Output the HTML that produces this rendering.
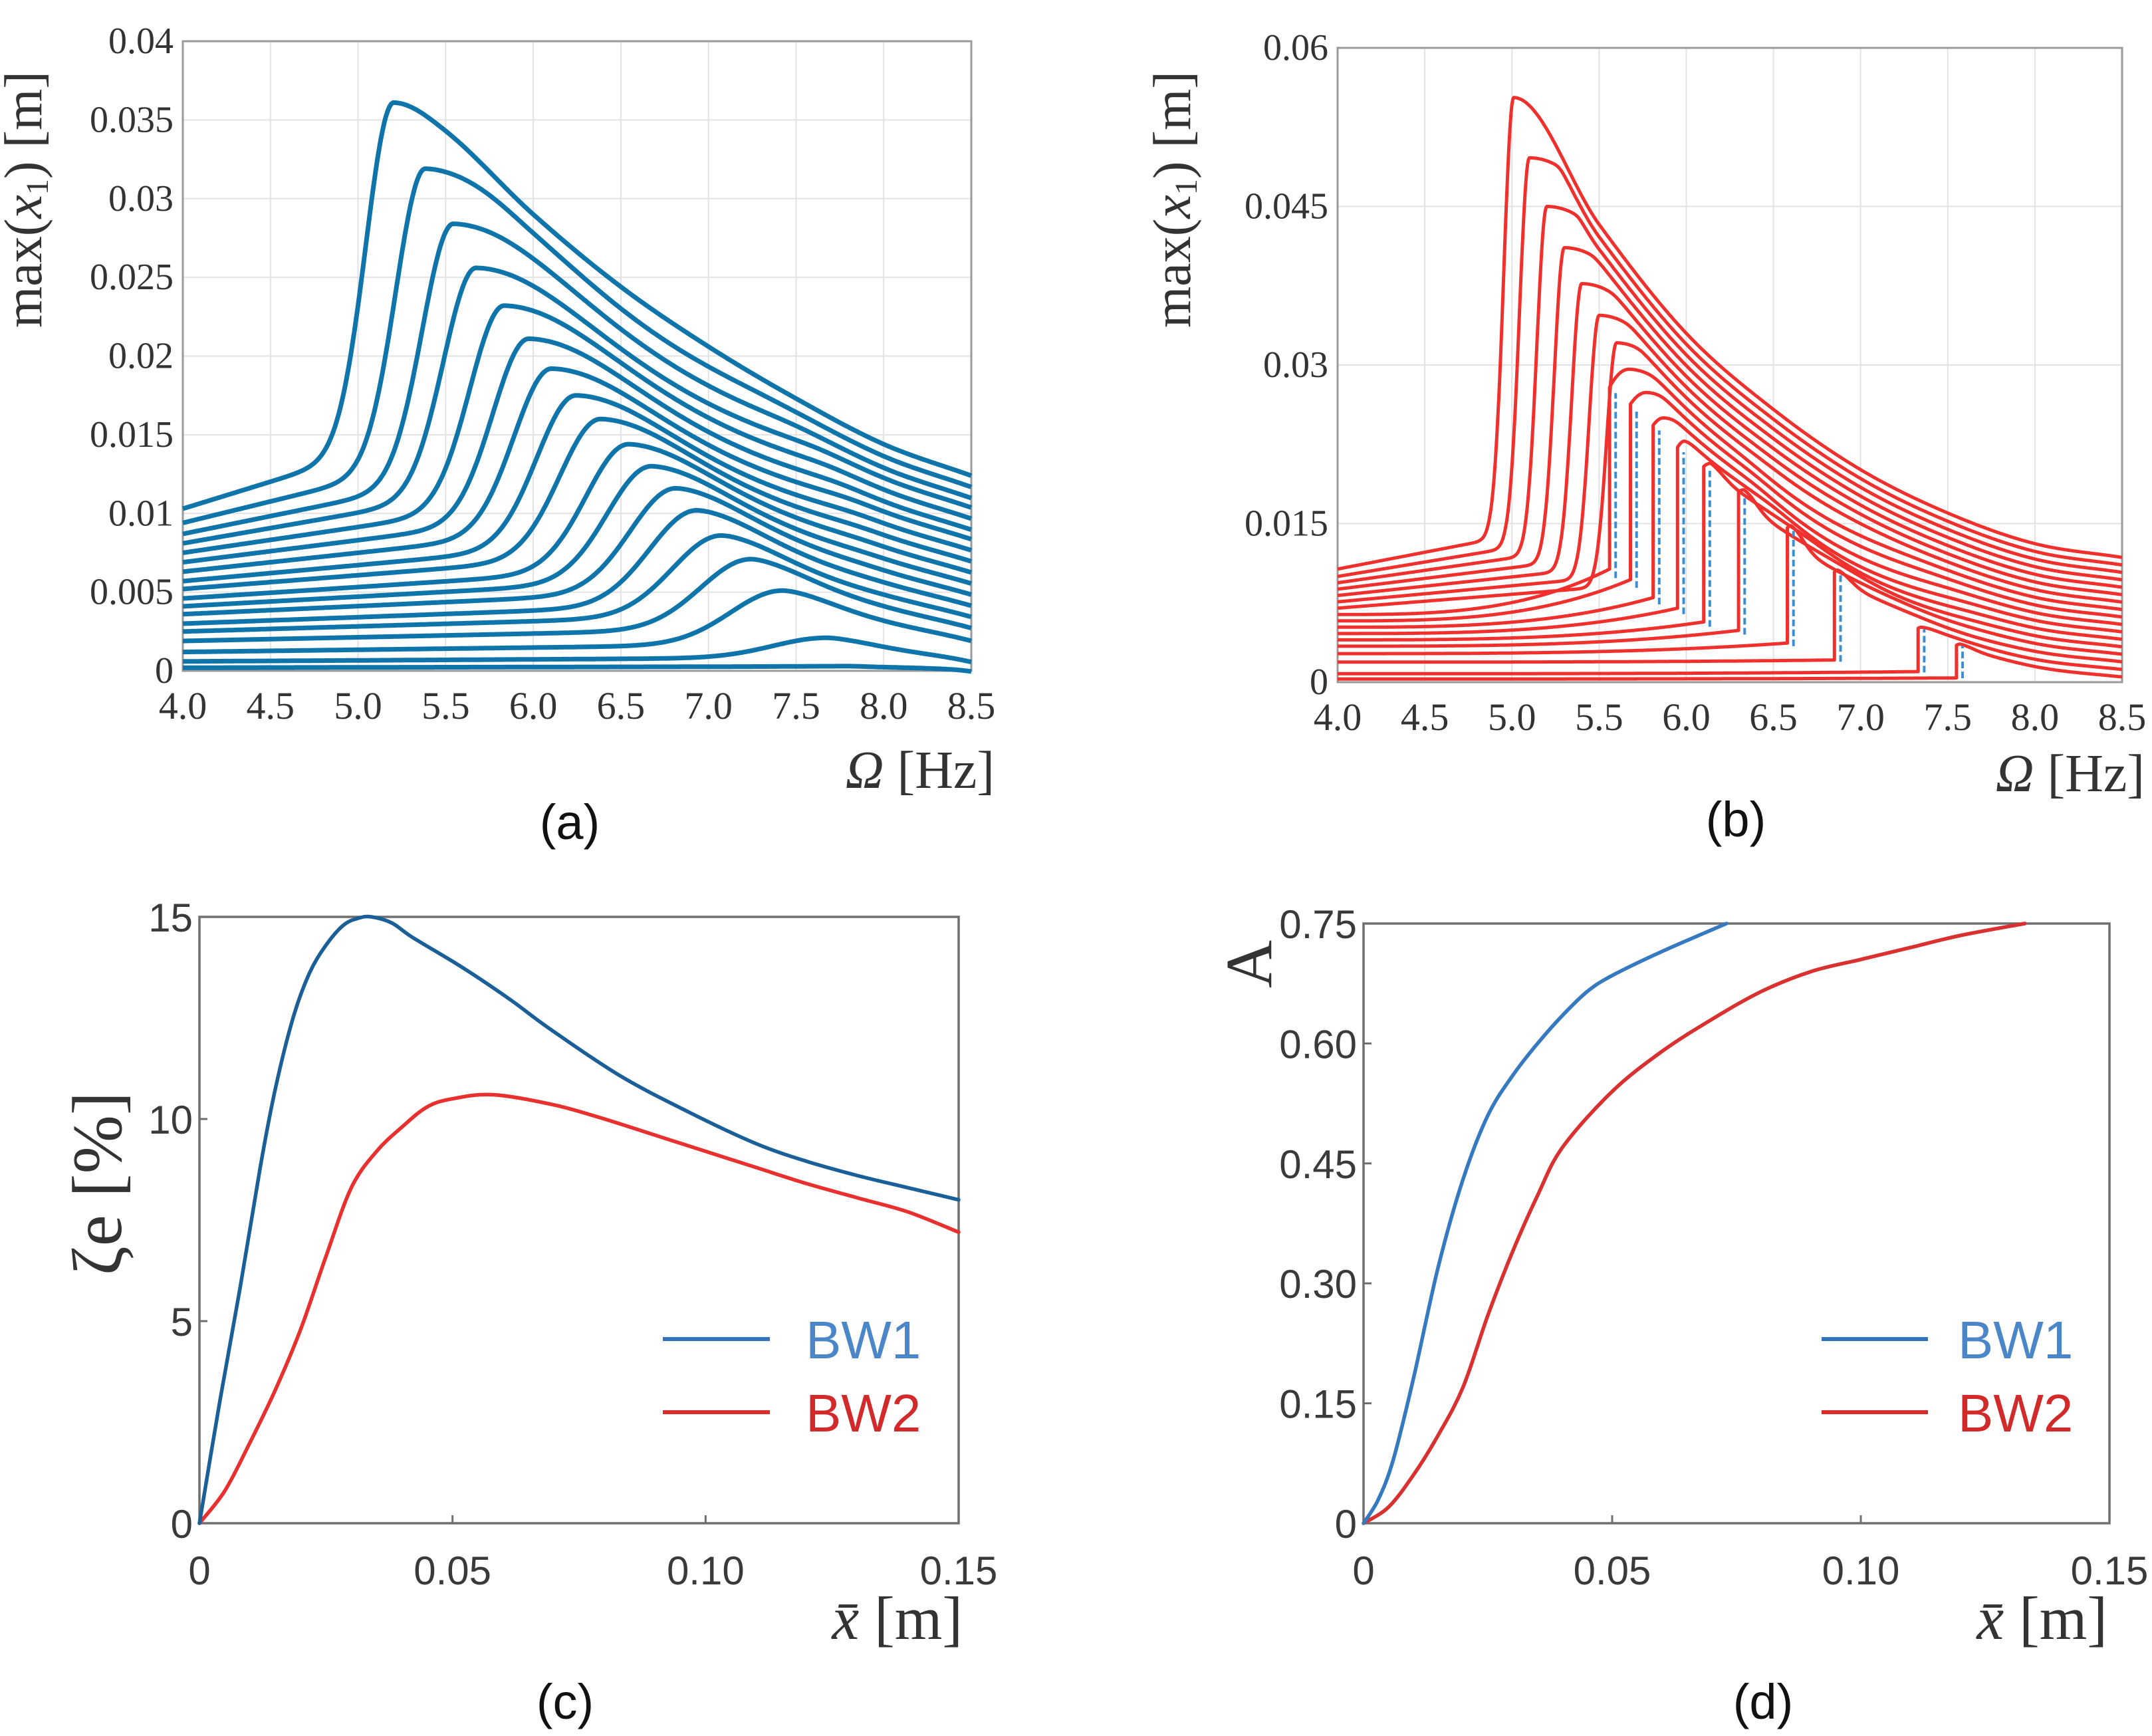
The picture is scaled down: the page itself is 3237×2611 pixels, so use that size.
<!DOCTYPE html>
<html><head><meta charset="utf-8">
<style>
html,body{margin:0;padding:0;background:#fff;}
svg{display:block;}
.ser{font-family:"Liberation Serif",serif;}
.san{font-family:"Liberation Sans",sans-serif;}
</style></head>
<body>
<svg id="fig" width="3237" height="2611" viewBox="0 0 3237 2611" xmlns="http://www.w3.org/2000/svg">
<rect x="0" y="0" width="3237" height="2611" fill="#fff"/>
<g id="pa"></g>
<g id="pb"></g>
<g id="pc"></g>
<g id="pd"></g>
</svg>
<script>
// ---------- Panel (a) data ----------
const aXTicks=[4.0,4.5,5.0,5.5,6.0,6.5,7.0,7.5,8.0,8.5];
const aYTicks=[0,0.005,0.01,0.015,0.02,0.025,0.03,0.035,0.04];
const aYTickLabels=["0","0.005","0.01","0.015","0.02","0.025","0.03","0.035","0.04"];
const aStart=[.0103,.0094,.0087,.0081,.0075,.0069,.0063,.0057,.0052,.0046,.0041,.0036,.0030,.0025,.0019,.0012,.0006,.0002];
const aPeakX=[5.2,5.38,5.54,5.67,5.83,5.97,6.1,6.24,6.38,6.54,6.67,6.81,6.93,7.07,7.24,7.42,7.67,7.8];
const aPeakY=[.0361,.0319,.0284,.0256,.0232,.0211,.0192,.0175,.016,.0144,.013,.0116,.0102,.0086,.0071,.0051,.0021,.0003];
const aEnd=[.0124,.0117,.0110,.0104,.0097,.0090,.0084,.0077,.0070,.0063,.0056,.0049,.0042,.0035,.0028,.0020,.0007,.0002];
// upper envelope (top curve's right side)
const aTopTailX=[5.2,5.5,6.0,6.5,7.0,7.5,8.0,8.5];
const aTopTailY=[.0361,.0343,.029,.0244,.0206,.0173,.0144,.0124];
// ---------- Panel (b) data ----------
const bXTicks=[4.0,4.5,5.0,5.5,6.0,6.5,7.0,7.5,8.0,8.5];
const bYTicks=[0,0.015,0.03,0.045,0.06];
const bYTickLabels=["0","0.015","0.03","0.045","0.06"];
const bStart=[.0107,.0100,.0094,.0088,.0082,.0076,.0070,.0064,.0058,.0052,.0046,.0040,.0034,.0027,.0019,.0008,.0003];
const bPeakX=[5.01,5.10,5.20,5.30,5.40,5.50,5.60,5.67,5.77,5.87,5.99,6.14,6.33,6.60,6.87,7.35,7.57];
const bPeakY=[.0553,.0496,.0450,.0411,.0377,.0347,.0321,.0296,.0274,.0250,.0228,.0207,.0182,.0148,.0106,.0052,.0036];
const bEnd=[.0118,.0111,.0104,.0097,.0090,.0083,.0076,.0069,.0062,.0055,.0048,.0041,.0034,.0027,.0020,.0013,.0006];
const bJumpX=[null,null,null,null,null,null,null,5.56,5.68,5.81,5.95,6.10,6.30,6.58,6.85,7.33,7.55];
const bJumpLow=[null,null,null,null,null,null,null,.0107,.0097,.0080,.0070,.0057,.0049,.0037,.0021,.0010,.0004];
const bJumpHigh=[null,null,null,null,null,null,null,.0279,.0263,.0243,.0222,.0204,.0180,.0146,.0104,.0051,.0035];
const bTopTailX=[5.01,5.5,6.0,6.5,7.0,7.5,8.0,8.5];
const bTopTailY=[.0553,.0433,.033,.0258,.0201,.016,.0131,.0118];
// ---------- Panel (c) data ----------
const cXTicks=[0,0.05,0.10,0.15];
const cXTickLabels=["0","0.05","0.10","0.15"];
const cYTicks=[0,5,10,15];
const cYTickLabels=["0","5","10","15"];
const cBW1x=[0,.004,.008,.012,.015,.0185,.0217,.025,.0285,.0315,.034,.038,.042,.05,.0556,.062,.069,.0827,.0962,.1098,.12,.13,.14,.15];
const cBW1y=[0,3.0,5.8,8.8,10.75,12.5,13.6,14.3,14.8,14.97,15.0,14.85,14.5,13.9,13.45,12.9,12.25,11.1,10.2,9.4,8.95,8.6,8.3,8.0];
const cBW2x=[0,.005,.01,.015,.02,.025,.03,.035,.04,.045,.05,.058,.07,.08,.09,.1,.11,.12,.13,.14,.15];
const cBW2y=[0,0.8,2.0,3.3,4.8,6.6,8.3,9.2,9.8,10.3,10.5,10.6,10.35,10.0,9.6,9.2,8.8,8.4,8.05,7.7,7.2];
// ---------- Panel (d) data ----------
const dXTicks=[0,0.05,0.10,0.15];
const dXTickLabels=["0","0.05","0.10","0.15"];
const dYTicks=[0,0.15,0.30,0.45,0.60,0.75];
const dYTickLabels=["0","0.15","0.30","0.45","0.60","0.75"];
const dBW1x=[0,.003,.006,.01,.015,.02,.025,.03,.035,.04,.045,.05,.06,.073];
const dBW1y=[0,.03,.08,.18,.32,.43,.51,.56,.60,.635,.665,.685,.715,.75];
const dBW2x=[0,.005,.01,.015,.02,.025,.03,.035,.04,.05,.06,.07,.08,.09,.1,.11,.12,.133];
const dBW2y=[0,.02,.06,.11,.17,.26,.34,.41,.47,.54,.59,.63,.665,.69,.705,.72,.735,.75];

const NS="http://www.w3.org/2000/svg";
function el(tag,parent){const e=document.createElementNS(NS,tag);parent.appendChild(e);return e;}
function lin(d0,d1,p0,p1){return v=>p0+(v-d0)/(d1-d0)*(p1-p0);}
function txt(parent,x,y,s,size,cls,anchor,fill){
  const t=el('text',parent);t.setAttribute('x',x);t.setAttribute('y',y);
  t.setAttribute('font-size',size);t.setAttribute('class',cls);
  t.setAttribute('text-anchor',anchor);t.setAttribute('fill',fill);t.textContent=s;return t;}
function crPath(pts){
  let d='M'+pts[0][0].toFixed(1)+','+pts[0][1].toFixed(1);
  for(let i=0;i<pts.length-1;i++){
    const p0=pts[Math.max(0,i-1)],p1=pts[i],p2=pts[i+1],p3=pts[Math.min(pts.length-1,i+2)];
    const c1=[p1[0]+(p2[0]-p0[0])/6,p1[1]+(p2[1]-p0[1])/6];
    const c2=[p2[0]-(p3[0]-p1[0])/6,p2[1]-(p3[1]-p1[1])/6];
    d+=' C'+c1[0].toFixed(1)+','+c1[1].toFixed(1)+' '+c2[0].toFixed(1)+','+c2[1].toFixed(1)+' '+p2[0].toFixed(1)+','+p2[1].toFixed(1);
  }
  return d;}
function interp(xs,ys,x){
  if(x<=xs[0])return ys[0];
  if(x>=xs[xs.length-1])return ys[ys.length-1];
  let i=0;while(x>xs[i+1])i++;
  const m=j=>{const a=Math.max(0,j-1),b=Math.min(xs.length-1,j+1);return (ys[b]-ys[a])/(xs[b]-xs[a]);};
  const h=xs[i+1]-xs[i],t=(x-xs[i])/h;
  const m0=(i===0?0:m(i))*h,m1=m(i+1)*h;
  const t2=t*t,t3=t2*t;
  return (2*t3-3*t2+1)*ys[i]+(t3-2*t2+t)*m0+(-2*t3+3*t2)*ys[i+1]+(t3-t2)*m1;
}
function smin(a,b){const e=0.0005;return (a+b-Math.sqrt((a-b)*(a-b)+e*e))/2;}
// right side of curve i: smooth minimum of its own broad peak and a nested copy of the top envelope
function rightSide(i,n,xp,yp,ye,ye0,tx,ty,x){
  if(i===0)return interp(tx,ty,x);
  const wR=Math.max(0.4,0.4+0.055*(n-1-i));
  const k=1-0.0145*i;
  const Tf=z=>ye+k*(interp(tx,ty,z)-ye0);
  const R=ye+(yp-ye)/(1+Math.pow((x-xp)/wR,2));
  const fix=yp-smin(yp,Tf(xp));
  return smin(R,Tf(x))+fix*Math.exp(-Math.pow((x-xp)/0.1,2));
}

function freqFrame(g,L,R,T,B,xT,yT,yTL,yMax,name){
  const X=lin(4,8.5,L,R),Y=lin(0,yMax,B,T);
  const grid=el('g',g);
  
  
  xT.forEach(v=>{const l=el('line',grid);l.setAttribute('x1',X(v));l.setAttribute('x2',X(v));l.setAttribute('y1',T);l.setAttribute('y2',B);l.setAttribute('stroke','#e2e2e2');l.setAttribute('stroke-width','2');});
  yT.forEach(v=>{const l=el('line',grid);l.setAttribute('x1',L);l.setAttribute('x2',R);l.setAttribute('y1',Y(v));l.setAttribute('y2',Y(v));l.setAttribute('stroke','#e2e2e2');l.setAttribute('stroke-width','2');});
  const fr=el('rect',g);fr.setAttribute('x',L);fr.setAttribute('y',T);fr.setAttribute('width',R-L);fr.setAttribute('height',B-T);
  fr.setAttribute('fill','none');fr.setAttribute('stroke','#9a9a9a');fr.setAttribute('stroke-width','3');
  
  
  const xl=el('g',g);
  
  
  xT.forEach(v=>{const t=txt(xl,X(v),B+72,v.toFixed(1),58,'ser','middle','#333');
    
    });
  const yl=el('g',g);
  
  
  yT.forEach((v,i)=>{const t=txt(yl,L-14,Y(v)+18,yTL[i],56,'ser','end','#333');
    
    });
  return {X,Y};
}
function yTitle(g,x,y,name){
  const t=el('text',g);t.setAttribute('transform','translate('+x+','+y+') rotate(-90)');
  t.setAttribute('font-size',80);t.setAttribute('class','ser');t.setAttribute('text-anchor','middle');t.setAttribute('fill','#333');
  
  
  const s1=el('tspan',t);s1.textContent='max(';
  const s2=el('tspan',t);s2.setAttribute('font-style','italic');s2.textContent='x';
  const s3=el('tspan',t);s3.setAttribute('font-size',48);s3.setAttribute('dy','10');s3.textContent='1';
  const s4=el('tspan',t);s4.setAttribute('dy','-10');s4.textContent=') [m]';
}
function omegaTitle(g,x,y,name){
  const t=el('text',g);t.setAttribute('x',x);t.setAttribute('y',y);t.setAttribute('font-size',80);
  t.setAttribute('class','ser');t.setAttribute('text-anchor','end');t.setAttribute('fill','#333');
  
  
  const a=el('tspan',t);a.setAttribute('font-style','italic');a.textContent='Ω';
  const b=el('tspan',t);b.textContent=' [Hz]';
}
function subLabel(g,x,y,s,name){
  const t=txt(g,x,y,s,74,'san','middle','#111');
  
  
}

// Panel a
(function(){
  const g=document.getElementById('pa');
  const L=275,R=1461,T=62,B=1009;
  const {X,Y}=freqFrame(g,L,R,T,B,aXTicks,aYTicks,aYTickLabels,0.04,'panel-a');
  const cg=el('g',g);
  
  
  const n=aStart.length;
  for(let i=0;i<n;i++){
    const y0=aStart[i],xp=aPeakX[i],yp=aPeakY[i],ye=aEnd[i];
    const w=0.22+0.013*i;
    const pts=[];
    for(let x=4;x<=8.5001;x+=0.01){
      let y;
      if(x<=xp){const base=y0+0.4*y0*(x-4)/(xp-4);const bp=1.4*y0;const q=Math.exp(-Math.pow((xp-x)/w,2));y=base+(yp-bp)*q;}
      else{y=rightSide(i,n,xp,yp,ye,aEnd[0],aTopTailX,aTopTailY,x);}
      pts.push(X(x).toFixed(1)+','+Y(y).toFixed(1));
    }
    const p=el('polyline',cg);p.setAttribute('points',pts.join(' '));
    p.setAttribute('fill','none');p.setAttribute('stroke','#0f74aa');p.setAttribute('stroke-width','7');p.setAttribute('stroke-linejoin','round');
    
    
  }
  yTitle(g,62,300,'panel-a-y-axis-title');
  omegaTitle(g,1496,1185,'panel-a-x-axis-title');
  subLabel(g,857,1262,'(a)','panel-a-label');
})();

// Panel b
(function(){
  const g=document.getElementById('pb');
  const L=2012,R=3192,T=72,B=1026;
  const {X,Y}=freqFrame(g,L,R,T,B,bXTicks,bYTicks,bYTickLabels,0.06,'panel-b');
  const cg=el('g',g);
  
  
  const bg=el('g',g);
  
  
  const n=bStart.length;
  for(let i=0;i<n;i++){
    const y0=bStart[i],xp=bPeakX[i],yp=bPeakY[i],ye=bEnd[i],xj=bJumpX[i],yl=bJumpLow[i],yh=bJumpHigh[i];
    const pts=[];
    let jumped=false;
    for(let x=4;x<=8.5001;x+=0.005){
      let y;
      if(xj!==null && x<xj){const t=(x-4)/(xj-4);y=y0+(yl-y0)*Math.pow(t,3);}
      else if(xj!==null && x<=xp){
        if(!jumped){pts.push(X(xj).toFixed(1)+','+Y(yl).toFixed(1));pts.push(X(xj).toFixed(1)+','+Y(yh).toFixed(1));jumped=true;}
        const u=(x-xj)/(xp-xj);y=yh+(yp-yh)*(1-(1-u)*(1-u));}
      else if(x<=xp){const base=y0+0.3*y0*(x-4)/(xp-4);const q=Math.exp(-Math.pow((xp-x)/0.08,2));y=base+(yp-1.3*y0)*q;}
      else{
        if(xj!==null && !jumped){pts.push(X(xj).toFixed(1)+','+Y(yl).toFixed(1));pts.push(X(xj).toFixed(1)+','+Y(yh).toFixed(1));jumped=true;}
        y=rightSide(i,n,xp,yp,ye,bEnd[0],bTopTailX,bTopTailY,x);}
      pts.push(X(x).toFixed(1)+','+Y(y).toFixed(1));
    }
    const p=el('polyline',cg);p.setAttribute('points',pts.join(' '));
    p.setAttribute('fill','none');p.setAttribute('stroke','#f0302c');p.setAttribute('stroke-width','5');p.setAttribute('stroke-linejoin','round');
    
    
    if(xj!==null){
      const d=el('line',bg);d.setAttribute('x1',X(xj+0.035));d.setAttribute('x2',X(xj+0.035));
      d.setAttribute('y1',Y(yl*0.92));d.setAttribute('y2',Y(yh*0.98));
      d.setAttribute('stroke','#3b8fd0');d.setAttribute('stroke-width','4');d.setAttribute('stroke-dasharray','10 5');
      
      
    }
  }
  yTitle(g,1790,300,'panel-b-y-axis-title');
  omegaTitle(g,3226,1190,'panel-b-x-axis-title');
  subLabel(g,2611,1258,'(b)','panel-b-label');
})();

function simpleFrame(g,L,R,T,B,xT,xTL,yT,yTL,yMax,name){
  const X=lin(0,0.15,L,R),Y=lin(0,yMax,B,T);
  const fr=el('rect',g);fr.setAttribute('x',L);fr.setAttribute('y',T);fr.setAttribute('width',R-L);fr.setAttribute('height',B-T);
  fr.setAttribute('fill','none');fr.setAttribute('stroke','#6f6f6f');fr.setAttribute('stroke-width','3.5');
  
  
  const xl=el('g',g);
  
  
  xT.forEach((v,i)=>{const l=el('line',xl);l.setAttribute('x1',X(v));l.setAttribute('x2',X(v));l.setAttribute('y1',B);l.setAttribute('y2',B-12);l.setAttribute('stroke','#6f6f6f');l.setAttribute('stroke-width','3');
    const t=txt(xl,X(v),B+92,xTL[i],60,'san','middle','#3a3a3a');
    
    });
  const yl=el('g',g);
  
  
  yT.forEach((v,i)=>{const l=el('line',yl);l.setAttribute('x1',L);l.setAttribute('x2',L+12);l.setAttribute('y1',Y(v));l.setAttribute('y2',Y(v));l.setAttribute('stroke','#6f6f6f');l.setAttribute('stroke-width','3');
    const t=txt(yl,L-10,Y(v)+22,yTL[i],60,'san','end','#3a3a3a');
    
    });
  return {X,Y};
}
function series(g,X,Y,xs,ys,color,name){
  const pts=xs.map((x,i)=>[X(x),Y(ys[i])]);
  const p=el('path',g);p.setAttribute('d',crPath(pts));p.setAttribute('fill','none');
  p.setAttribute('stroke',color);p.setAttribute('stroke-width','5.5');p.setAttribute('stroke-linecap','round');
  
  
}
function legend(g,x1,x2,tx,y1,y2,name){
  const lg=el('g',g);
  
  
  [[y1,'#2f74bd','#4a86c8','BW1'],[y2,'#dd2a2a','#d22a2a','BW2']].forEach(r=>{
    const e=el('g',lg);
    
    
    const l=el('line',e);l.setAttribute('x1',x1);l.setAttribute('x2',x2);l.setAttribute('y1',r[0]);l.setAttribute('y2',r[0]);
    l.setAttribute('stroke',r[1]);l.setAttribute('stroke-width','6');
    txt(e,tx,r[0]+29,r[3],80,'san','start',r[2]);
  });
}
function xbarTitle(g,x,y,name){
  const t=el('text',g);t.setAttribute('x',x);t.setAttribute('y',y);t.setAttribute('font-size',92);
  t.setAttribute('class','ser');t.setAttribute('text-anchor','end');t.setAttribute('fill','#333');
  
  
  const a=el('tspan',t);a.setAttribute('font-style','italic');a.textContent='x̄';
  const b=el('tspan',t);b.textContent=' [m]';
}
(function(){
  const g=document.getElementById('pc');
  const L=300,R=1442,T=1379,B=2291;
  const {X,Y}=simpleFrame(g,L,R,T,B,cXTicks,cXTickLabels,cYTicks,cYTickLabels,15,'panel-c');
  series(g,X,Y,cBW2x,cBW2y,'#e8302e','bw2-curve-c');
  series(g,X,Y,cBW1x,cBW1y,'#1a5f98','bw1-curve-c');
  legend(g,997,1158,1212,2014,2124,'panel-c-legend');
  const t=el('text',g);t.setAttribute('transform','translate(182,1780) rotate(-90)');
  t.setAttribute('font-size',106);t.setAttribute('class','ser');t.setAttribute('text-anchor','middle');t.setAttribute('fill','#333');
  
  
  t.textContent='ζe [%]';
  xbarTitle(g,1448,2465,'panel-c-x-axis-title');
  subLabel(g,850,2585,'(c)','panel-c-label');
})();
(function(){
  const g=document.getElementById('pd');
  const L=2051,R=3173,T=1389,B=2291;
  const {X,Y}=simpleFrame(g,L,R,T,B,dXTicks,dXTickLabels,dYTicks,dYTickLabels,0.75,'panel-d');
  series(g,X,Y,dBW2x,dBW2y,'#d93030','bw2-curve-d');
  series(g,X,Y,dBW1x,dBW1y,'#3579c0','bw1-curve-d');
  legend(g,2740,2900,2945,2014,2124,'panel-d-legend');
  const t=el('text',g);t.setAttribute('transform','translate(1912,1450) rotate(-90)');
  t.setAttribute('font-size',100);t.setAttribute('class','ser');t.setAttribute('text-anchor','middle');t.setAttribute('fill','#333');
  
  
  t.textContent='A';
  xbarTitle(g,3170,2465,'panel-d-x-axis-title');
  subLabel(g,2652,2585,'(d)','panel-d-label');
})();
</script>
</body></html>
